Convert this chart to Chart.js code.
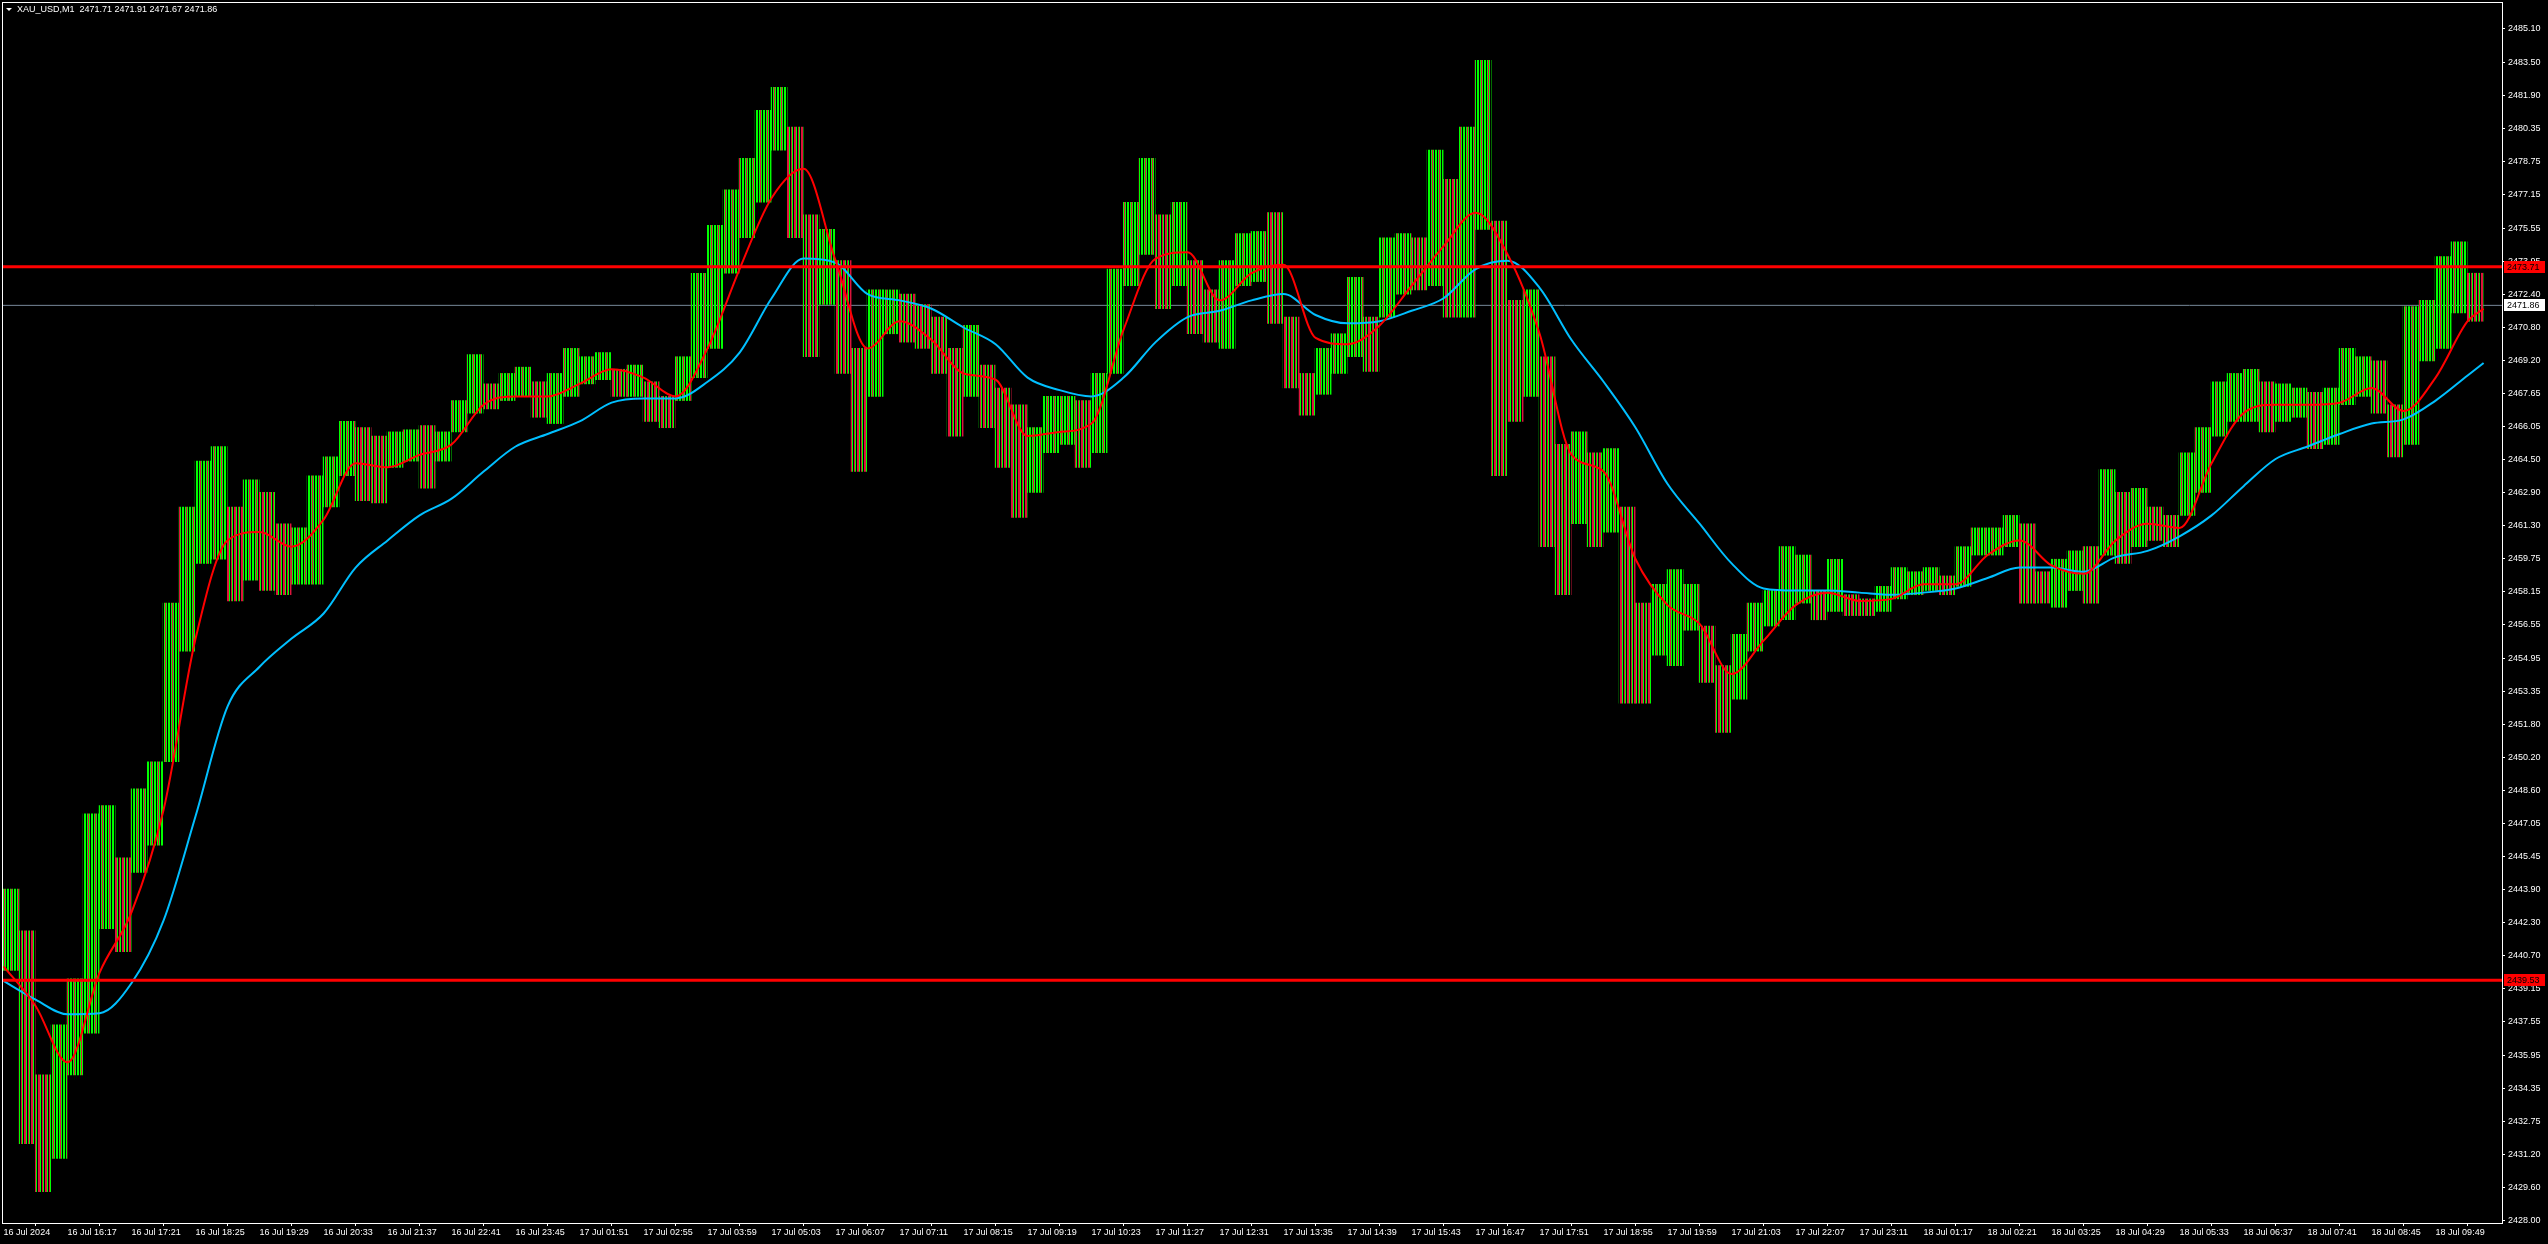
<!DOCTYPE html>
<html>
<head>
<meta charset="utf-8">
<script src="https://cdn.jsdelivr.net/npm/chart.js@4.4.1/dist/chart.umd.min.js"></script>
<style>
  html, body { margin: 0; padding: 0; background: #000; }
  canvas { display: block; }
</style>
</head>
<body>
<canvas id="chart" width="2548" height="1244"></canvas>
<script>
// XAU_USD M1 from 16 Jul 15:13, candles summed up in groups of 16 one-minute bars
const symbol = 'XAU_USD,M1';
const lastBar = [2471.71, 2471.91, 2471.67, 2471.86]; // O H L C

const groupBars = 16;
const groupHigh = [
  2443.9, 2441.9, 2435.0, 2437.4, 2439.6, 2447.5, 2447.9, 2445.4, 2448.7, 2450.0,
  2457.6, 2462.2, 2464.4, 2465.1, 2462.2, 2463.5, 2462.9, 2461.4, 2461.2, 2463.7,
  2464.6, 2466.3, 2466.0, 2465.6, 2465.8, 2465.9, 2466.1, 2465.8, 2467.3, 2469.5,
  2468.1, 2468.6, 2468.9, 2468.2, 2468.6, 2469.8, 2469.4, 2469.6, 2468.8, 2469.0,
  2468.2, 2467.5, 2469.4, 2473.4, 2475.7, 2477.4, 2478.9, 2481.2, 2482.3, 2480.4,
  2476.2, 2475.5, 2474.0, 2469.8, 2472.6, 2472.6, 2472.4, 2471.9, 2471.3, 2469.8,
  2470.9, 2469.0, 2467.9, 2467.1, 2466.0, 2467.5, 2467.5, 2467.3, 2468.6, 2473.6,
  2476.8, 2478.9, 2476.2, 2476.8, 2474.0, 2472.6, 2474.0, 2475.3, 2475.4, 2476.3,
  2471.3, 2468.6, 2469.8, 2470.5, 2473.2, 2471.3, 2475.1, 2475.3, 2475.1, 2479.3,
  2477.9, 2480.4, 2483.6, 2475.9, 2472.1, 2472.6, 2469.4, 2465.2, 2465.8, 2464.8,
  2465.0, 2462.2, 2457.6, 2458.5, 2459.2, 2458.5, 2456.5, 2454.6, 2456.1, 2457.6,
  2458.2, 2460.3, 2459.9, 2458.2, 2459.7, 2458.0, 2457.8, 2458.4, 2459.3, 2459.1,
  2459.3, 2458.9, 2460.3, 2461.2, 2461.2, 2461.8, 2461.4, 2459.1, 2459.7, 2460.1,
  2460.3, 2464.0, 2462.9, 2463.1, 2462.2, 2461.8, 2464.8, 2466.0, 2468.2, 2468.6,
  2468.8, 2468.2, 2468.1, 2467.9, 2467.7, 2467.9, 2469.8, 2469.4, 2469.2, 2467.1,
  2471.8, 2472.1, 2474.2, 2474.9, 2473.4
];
const groupLow = [
  2440.0, 2431.7, 2429.4, 2431.0, 2435.0, 2437.0, 2442.0, 2440.9, 2444.7, 2446.0,
  2450.0, 2455.3, 2459.5, 2459.7, 2457.7, 2458.7, 2458.2, 2458.0, 2458.5, 2458.5,
  2462.2, 2463.7, 2462.5, 2462.4, 2464.1, 2464.4, 2463.1, 2464.4, 2465.8, 2466.7,
  2466.9, 2467.3, 2467.5, 2466.5, 2466.2, 2467.5, 2468.1, 2468.3, 2467.5, 2467.5,
  2466.3, 2466.0, 2467.3, 2468.4, 2469.8, 2473.4, 2475.1, 2476.8, 2479.3, 2475.1,
  2469.4, 2471.9, 2468.6, 2463.9, 2467.5, 2470.5, 2470.1, 2469.8, 2468.6, 2465.6,
  2467.5, 2466.0, 2464.1, 2461.7, 2462.9, 2464.8, 2465.2, 2464.1, 2464.8, 2468.6,
  2472.8, 2474.3, 2471.7, 2472.8, 2470.5, 2470.1, 2469.8, 2472.8, 2473.0, 2471.0,
  2467.9, 2466.6, 2467.6, 2468.6, 2469.4, 2468.7, 2471.3, 2472.4, 2472.6, 2472.8,
  2471.3, 2471.3, 2475.5, 2463.7, 2466.3, 2467.5, 2460.3, 2458.0, 2461.4, 2460.3,
  2461.0, 2452.8, 2452.8, 2455.1, 2454.6, 2456.3, 2453.8, 2451.4, 2453.0, 2455.3,
  2456.5, 2456.8, 2457.6, 2456.8, 2457.2, 2457.0, 2457.0, 2457.2, 2457.8, 2458.0,
  2458.2, 2458.0, 2458.4, 2459.9, 2459.9, 2460.3, 2457.6, 2457.6, 2457.4, 2458.2,
  2457.6, 2459.9, 2459.5, 2460.3, 2460.6, 2460.3, 2461.8, 2462.9, 2465.6, 2466.3,
  2466.3, 2465.8, 2466.3, 2466.5, 2465.0, 2465.2, 2467.1, 2467.5, 2466.7, 2464.6,
  2465.2, 2469.2, 2469.8, 2471.5, 2471.1
];

// moving averages, one reading every 32 bars, last value on the last bar
const maStep = 32;
const lastBarIndex = 2480;
const redMa = [
  2440.2, 2438.3, 2435.6, 2439.9, 2442.8, 2447.7, 2455.9, 2460.6, 2461.0, 2460.3,
  2461.6, 2464.3, 2464.1, 2464.7, 2465.2, 2467.1, 2467.5, 2467.5, 2468.1, 2468.8,
  2468.4, 2467.5, 2469.8, 2473.6, 2477.0, 2478.4, 2474.0, 2469.8, 2471.1, 2470.2,
  2468.6, 2468.3, 2465.6, 2465.8, 2466.2, 2470.7, 2474.1, 2474.4, 2472.1, 2473.4,
  2473.8, 2470.3, 2470.0, 2470.9, 2472.8, 2474.7, 2476.3, 2474.3, 2470.5, 2464.7,
  2463.9, 2459.7, 2457.5, 2456.6, 2454.2, 2455.8, 2457.5, 2458.1, 2457.7, 2457.8,
  2458.5, 2458.5, 2459.9, 2460.6, 2459.4, 2459.0, 2460.6, 2461.4, 2461.2, 2464.3,
  2466.7, 2467.1, 2467.1, 2467.2, 2467.9, 2466.8, 2468.4, 2471.1, 2471.7
];
const blueMa = [
  2439.5, 2438.6, 2437.9, 2437.95, 2439.4, 2442.4, 2447.4, 2452.65, 2454.55, 2455.9,
  2457.1, 2459.3, 2460.6, 2461.8, 2462.6, 2463.9, 2465.1, 2465.7, 2466.3, 2467.2,
  2467.4, 2467.4, 2468.2, 2469.6, 2472.2, 2474.1, 2473.9, 2472.4, 2472.1, 2471.7,
  2470.8, 2470.0, 2468.4, 2467.8, 2467.5, 2468.4, 2470.1, 2471.3, 2471.6, 2472.1,
  2472.4, 2471.4, 2471.0, 2471.1, 2471.6, 2472.2, 2473.6, 2474.0, 2472.7, 2470.2,
  2468.2, 2466.0, 2463.3, 2461.4, 2459.5, 2458.3, 2458.2, 2458.2, 2458.1, 2458.0,
  2458.1, 2458.3, 2458.8, 2459.3, 2459.3, 2459.1, 2459.8, 2460.1, 2460.8, 2461.8,
  2463.2, 2464.5, 2465.1, 2465.7, 2466.2, 2466.4, 2467.3, 2468.5, 2469.1
];

const redLevels = [2473.71, 2439.53];
const bidLevel = lastBar[3];

const priceTicks = [
  2485.10, 2483.50, 2481.90, 2480.35, 2478.75, 2477.15, 2475.55, 2473.95, 2472.40,
  2470.80, 2469.20, 2467.65, 2466.05, 2464.50, 2462.90, 2461.30, 2459.75, 2458.15,
  2456.55, 2454.95, 2453.35, 2451.80, 2450.20, 2448.60, 2447.05, 2445.45, 2443.90,
  2442.30, 2440.70, 2439.15, 2437.55, 2435.95, 2434.35, 2432.75, 2431.20, 2429.60,
  2428.00
];
const barsPerLabel = 64;
const timeLabels = [
  '16 Jul 2024', '16 Jul 16:17', '16 Jul 17:21', '16 Jul 18:25', '16 Jul 19:29',
  '16 Jul 20:33', '16 Jul 21:37', '16 Jul 22:41', '16 Jul 23:45', '17 Jul 01:51',
  '17 Jul 02:55', '17 Jul 03:59', '17 Jul 05:03', '17 Jul 06:07', '17 Jul 07:11',
  '17 Jul 08:15', '17 Jul 09:19', '17 Jul 10:23', '17 Jul 11:27', '17 Jul 12:31',
  '17 Jul 13:35', '17 Jul 14:39', '17 Jul 15:43', '17 Jul 16:47', '17 Jul 17:51',
  '17 Jul 18:55', '17 Jul 19:59', '17 Jul 21:03', '17 Jul 22:07', '17 Jul 23:11',
  '18 Jul 01:17', '18 Jul 02:21', '18 Jul 03:25', '18 Jul 04:29', '18 Jul 05:33',
  '18 Jul 06:37', '18 Jul 07:41', '18 Jul 08:45', '18 Jul 09:49'
];

// visible window of the chart (bar index / price)
const xMin = -1.6, xMax = 2498.4;
const yMin = 2427.904, yMax = 2486.392;

const FONT = '"Liberation Sans", Arial, sans-serif';
const LIME = '#00ff00';
const CRIMSON = '#dc143c';
const GAP = 'rgba(0,0,0,0)';

const canvas = document.getElementById('chart');
const ctx = canvas.getContext('2d');

// 1px vertical stripes, like rows of one-minute candles
const stripes = (cols) => {
  const tile = document.createElement('canvas');
  tile.width = cols.length;
  tile.height = 1;
  const g = tile.getContext('2d');
  cols.forEach((col, i) => {
    g.fillStyle = col;
    g.fillRect(i, 0, 1, 1);
  });
  return ctx.createPattern(tile, 'repeat');
};
const upPattern = stripes([LIME, LIME, GAP, LIME, CRIMSON, LIME, GAP]);
const downPattern = stripes([CRIMSON, LIME, GAP, CRIMSON, CRIMSON, LIME, GAP]);

const mid = (k) => (groupHigh[k] + groupLow[k]) / 2;
const candles = groupHigh.map((h, k) => ({
  x: k * groupBars + (groupBars - 1) / 2,
  y: [groupLow[k], h],
}));
const maPoints = (arr) =>
  arr.map((v, m) => ({ x: m < arr.length - 1 ? m * maStep : lastBarIndex, y: v }));
const flat = (v) => [{ x: xMin, y: v }, { x: xMax, y: v }];

// no extra room for the end labels, the plot fills the window
const noPadding = (s) => {
  s.paddingTop = 0;
  s.paddingBottom = 0;
  s.paddingLeft = 0;
  s.paddingRight = 0;
};

const framePlugin = {
  id: 'frame',
  afterDraw(chart) {
    const { ctx, chartArea: a, scales } = chart;
    ctx.save();
    ctx.strokeStyle = '#ffffff';
    ctx.lineWidth = 1;
    ctx.strokeRect(a.left + 0.5, a.top + 0.5, a.right - a.left, a.bottom - a.top);

    // header
    ctx.fillStyle = '#ffffff';
    ctx.beginPath();
    ctx.moveTo(6, 8);
    ctx.lineTo(12, 8);
    ctx.lineTo(9, 11);
    ctx.closePath();
    ctx.fill();
    ctx.font = '9px ' + FONT;
    ctx.textBaseline = 'middle';
    ctx.textAlign = 'left';
    ctx.fillText(symbol + '  ' + lastBar.map((v) => v.toFixed(2)).join(' '), 17, 10);

    // price labels on the axis
    const tags = redLevels.map((v) => [v, '#ff0000']).concat([[bidLevel, '#ffffff']]);
    tags.forEach(([v, col]) => {
      const y = Math.round(scales.y.getPixelForValue(v));
      ctx.fillStyle = col;
      ctx.fillRect(a.right + 2, y - 6, 41, 12);
      ctx.fillStyle = '#000000';
      ctx.fillText(v.toFixed(2), a.right + 5, y + 0.5);
    });
    ctx.restore();
  },
};

new Chart(ctx, {
  type: 'bar',
  data: {
    datasets: [
      {
        type: 'line',
        data: flat(bidLevel),
        borderColor: '#778899',
        borderWidth: 1,
        pointRadius: 0,
        order: 5,
      },
      {
        type: 'bar',
        data: candles,
        backgroundColor: (c) =>
          c.dataIndex > 0 && mid(c.dataIndex) < mid(c.dataIndex - 1) ? downPattern : upPattern,
        borderWidth: 0,
        barPercentage: 1,
        categoryPercentage: 1,
        order: 4,
      },
      {
        type: 'line',
        data: maPoints(blueMa),
        borderColor: '#00bfff',
        borderWidth: 2,
        pointRadius: 0,
        cubicInterpolationMode: 'monotone',
        order: 3,
      },
      {
        type: 'line',
        data: maPoints(redMa),
        borderColor: '#ff0000',
        borderWidth: 2,
        pointRadius: 0,
        cubicInterpolationMode: 'monotone',
        order: 2,
      },
      ...redLevels.map((v) => ({
        type: 'line',
        data: flat(v),
        borderColor: '#ff0000',
        borderWidth: 3,
        pointRadius: 0,
        order: 1,
      })),
    ],
  },
  options: {
    responsive: false,
    animation: false,
    devicePixelRatio: 1,
    events: [],
    layout: { padding: { left: 2, top: 2, right: 0, bottom: 0 } },
    plugins: { legend: { display: false }, tooltip: { enabled: false } },
    scales: {
      x: {
        type: 'linear',
        min: xMin,
        max: xMax,
        offset: false,
        afterBuildTicks: (s) => {
          s.ticks = timeLabels.map((t, n) => ({ value: n * barsPerLabel }));
        },
        afterFit: (s) => {
          s.height = 21;
          noPadding(s);
        },
        grid: { drawOnChartArea: false, color: '#ffffff', tickLength: 3 },
        border: { display: false },
        ticks: {
          color: '#ffffff',
          font: { family: FONT, size: 9 },
          align: 'start',
          maxRotation: 0,
          autoSkip: false,
          padding: 1,
          callback: (v, n) => timeLabels[n],
        },
      },
      y: {
        position: 'right',
        min: yMin,
        max: yMax,
        afterBuildTicks: (s) => {
          s.ticks = priceTicks.map((v) => ({ value: v }));
        },
        afterFit: (s) => {
          s.width = 46;
          noPadding(s);
        },
        grid: { drawOnChartArea: false, color: '#ffffff', tickLength: 3 },
        border: { display: false },
        ticks: {
          color: '#ffffff',
          font: { family: FONT, size: 9 },
          padding: 3,
          callback: (v) => v.toFixed(2),
        },
      },
    },
  },
  plugins: [framePlugin],
});
</script>
</body>
</html>
